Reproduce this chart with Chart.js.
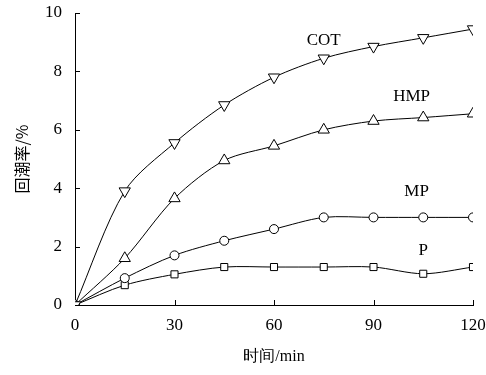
<!DOCTYPE html>
<html>
<head>
<meta charset="utf-8">
<script src="https://cdn.jsdelivr.net/npm/chart.js@4.4.1/dist/chart.umd.min.js"></script>
<style>
  body { margin: 0; background: #fff; }
  #wrap { width: 486px; height: 375px; }
</style>
</head>
<body>
<div id="wrap"><canvas id="chart1" width="486" height="375"></canvas></div>
<script>
// time in minutes
const times = [0, 15, 30, 45, 60, 75, 90, 105, 120];

// moisture regain (%) per sample
const cotValues = [0, 3.9, 5.55, 6.85, 7.8, 8.45, 8.85, 9.15, 9.45];
const hmpValues = [0, 1.6, 3.65, 4.95, 5.45, 6.0, 6.3, 6.42, 6.55];
const mpValues = [0, 0.92, 1.7, 2.2, 2.6, 3.0, 3.0, 3.0, 3.0];
const pValues = [0, 0.68, 1.05, 1.3, 1.3, 1.3, 1.3, 1.07, 1.3];

const xTicks = [0, 30, 60, 90, 120];
const yTicks = [0, 2, 4, 6, 8, 10];

// series labels placed in data coordinates
const seriesLabels = [
    { text: 'COT', x: 75, y: 9.05 },
    { text: 'HMP', x: 101.5, y: 7.15 },
    { text: 'MP', x: 103, y: 3.88 },
    { text: 'P', x: 105, y: 1.85 }
];

const serif = "'Liberation Serif', 'Times New Roman', serif";

function toPoints(vals) {
    return times.map((t, i) => ({ x: t, y: vals[i] }));
}

function series(vals, style, radius, rotation) {
    return {
        data: toPoints(vals),
        borderColor: '#000',
        borderWidth: 1,
        backgroundColor: '#fff',
        pointStyle: style,
        pointRadius: radius,
        pointRotation: rotation || 0,
        pointBorderWidth: 1,
        pointBorderColor: '#000',
        pointBackgroundColor: '#fff',
        tension: 0.3,
        fill: false
    };
}

// inward tick marks and text labels
const extras = {
    id: 'extras',
    afterDatasetsDraw(chart) {
        const ctx = chart.ctx;
        const xs = chart.scales.x, ys = chart.scales.y;
        ctx.save();
        ctx.strokeStyle = '#000';
        ctx.lineWidth = 1;
        ctx.beginPath();
        xTicks.forEach(v => {
            if (v === 0) return;
            const px = Math.round(xs.getPixelForValue(v)) + 0.5;
            ctx.moveTo(px, ys.bottom);
            ctx.lineTo(px, ys.bottom - 5);
        });
        yTicks.forEach(v => {
            if (v === 0) return;
            const py = Math.round(ys.getPixelForValue(v)) + 0.5;
            ctx.moveTo(xs.left, py);
            ctx.lineTo(xs.left + 5, py);
        });
        ctx.stroke();

        ctx.fillStyle = '#000';
        ctx.font = '17px ' + serif;
        ctx.textAlign = 'center';
        ctx.textBaseline = 'middle';
        seriesLabels.forEach(l => {
            ctx.fillText(l.text, xs.getPixelForValue(l.x), ys.getPixelForValue(l.y));
        });
        ctx.restore();
    }
};

new Chart(document.getElementById('chart1'), {
    type: 'line',
    data: {
        datasets: [
            series(cotValues, 'triangle', 6.5, 180),
            series(hmpValues, 'triangle', 6.5, 0),
            series(mpValues, 'circle', 4.5, 0),
            series(pValues, 'rect', 5, 0)
        ]
    },
    options: {
        responsive: false,
        animation: false,
        layout: { padding: { left: 8, right: 13, top: 13, bottom: 5 } },
        plugins: { legend: { display: false }, tooltip: { enabled: false } },
        scales: {
            x: {
                type: 'linear',
                min: 0,
                max: 120,
                afterBuildTicks: s => { s.ticks = xTicks.map(v => ({ value: v })); },
                afterFit: s => { s.height = 65; s.paddingLeft = 0; s.paddingRight = 0; },
                grid: { display: false },
                border: { display: true, color: '#000', width: 1 },
                ticks: { color: '#000', padding: 2, font: { family: serif, size: 17 } },
                title: {
                    display: true,
                    text: '时间/min',
                    color: '#000',
                    padding: { top: 3 },
                    font: { family: serif, size: 16 }
                }
            },
            y: {
                min: 0,
                max: 10,
                afterBuildTicks: s => { s.ticks = yTicks.map(v => ({ value: v })); },
                afterFit: s => { s.width = 67; s.paddingTop = 0; s.paddingBottom = 0; },
                grid: { display: false },
                border: { display: true, color: '#000', width: 1 },
                ticks: { color: '#000', padding: 5, font: { family: serif, size: 17 } },
                title: {
                    display: true,
                    text: '回潮率/%',
                    color: '#000',
                    padding: { bottom: 0 },
                    font: { family: "'Noto Sans CJK SC', " + serif, size: 16 }
                }
            }
        }
    },
    plugins: [extras]
});
</script>
</body>
</html>
